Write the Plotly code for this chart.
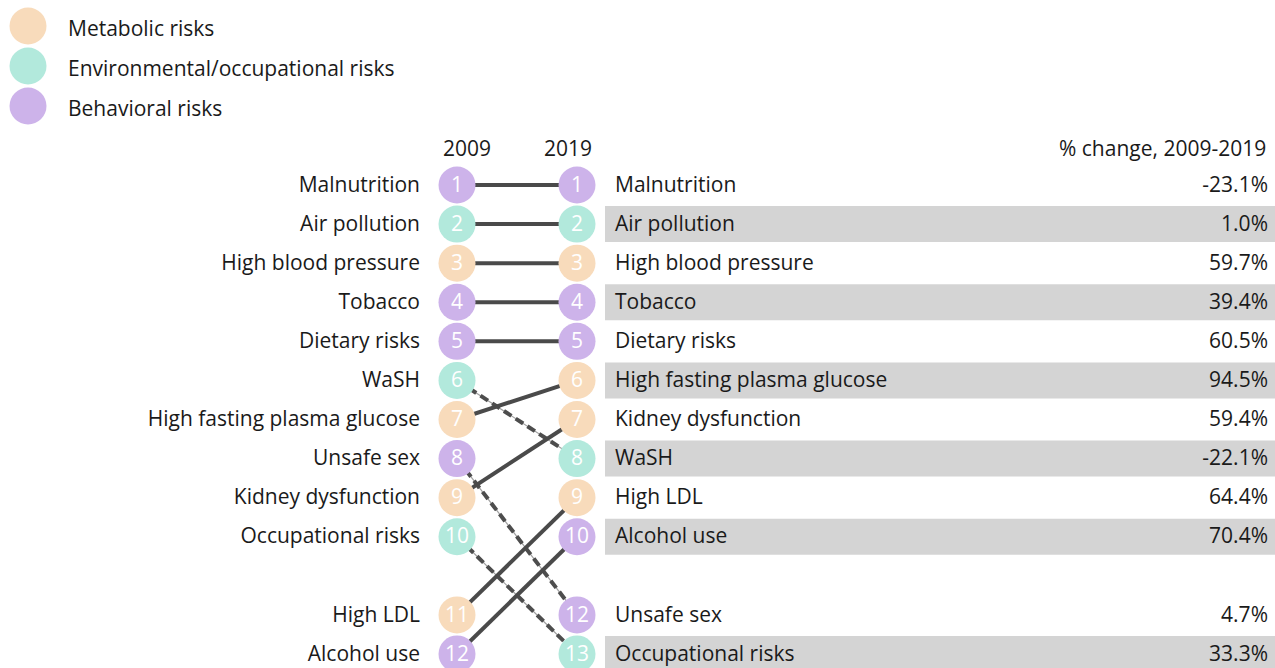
import plotly.graph_objects as go

# ---- data ----
risks = ["Malnutrition", "Air pollution", "High blood pressure", "Tobacco", "Dietary risks",
         "WaSH", "High fasting plasma glucose", "Unsafe sex", "Kidney dysfunction",
         "Occupational risks", "High LDL", "Alcohol use"]
category = ["Behavioral", "Environmental", "Metabolic", "Behavioral", "Behavioral",
            "Environmental", "Metabolic", "Behavioral", "Metabolic",
            "Environmental", "Metabolic", "Behavioral"]
rank_2009 = [1, 2, 3, 4, 5, 6, 7, 8, 9, 10, 11, 12]
rank_2019 = [1, 2, 3, 4, 5, 8, 6, 12, 7, 13, 9, 10]
pct_change = [-23.1, 1.0, 59.7, 39.4, 60.5, -22.1, 94.5, 4.7, 59.4, 33.3, 64.4, 70.4]
# display slot of each list (row 11 is left empty in both columns)
slot_2009 = [1, 2, 3, 4, 5, 6, 7, 8, 9, 10, 12, 13]
slot_2019 = [1, 2, 3, 4, 5, 8, 6, 12, 7, 13, 9, 10]

legend_names = ["Metabolic risks", "Environmental/occupational risks", "Behavioral risks"]
legend_keys = ["Metabolic", "Environmental", "Behavioral"]
colors = {"Metabolic": "#F8DBBB", "Environmental": "#B2E9DC", "Behavioral": "#CDB3EA"}

FONT = "Open Sans"
TXT = "#1a1a1a"
FS = 21
Y0, STEP = 185, 39.08
X09, X19 = 457, 577
TY = 1.5  # small downward nudge of text baseline


def ypos(slot):
    return Y0 + (slot - 1) * STEP


fig = go.Figure()

# grey bands behind the 2019 table (alternating rows in 2019 order)
order19 = sorted(range(len(risks)), key=lambda i: rank_2019[i])
for k, i in enumerate(order19):
    if k % 2 == 1:
        y = ypos(slot_2019[i])
        fig.add_shape(type="rect", x0=605, x1=1275, y0=y - 18, y1=y + 18,
                      fillcolor="#D4D4D4", line_width=0, layer="below")

# connecting lines
for i in range(len(risks)):
    ya, yb = ypos(slot_2009[i]), ypos(slot_2019[i])
    if rank_2019[i] > rank_2009[i]:
        fig.add_trace(go.Scatter(x=[X09, X19], y=[ya, yb], mode="lines",
                                 line=dict(color="#a0a0a0", width=1.2),
                                 hoverinfo="skip", showlegend=False))
        fig.add_trace(go.Scatter(x=[X09, X19], y=[ya, yb], mode="lines",
                                 line=dict(color="#4d4d4d", width=4, dash="9px,5px"),
                                 hoverinfo="skip", showlegend=False))
    else:
        fig.add_trace(go.Scatter(x=[X09, X19], y=[ya, yb], mode="lines",
                                 line=dict(color="#4a4a4a", width=4),
                                 hoverinfo="skip", showlegend=False))

# circles with rank numbers
for xs, ranks, slots in [(X09, rank_2009, slot_2009), (X19, rank_2019, slot_2019)]:
    fig.add_trace(go.Scatter(
        x=[xs] * len(risks), y=[ypos(s) for s in slots], mode="markers",
        marker=dict(size=37, color=[colors[c] for c in category], line_width=0),
        hoverinfo="skip", showlegend=False))
    fig.add_trace(go.Scatter(
        x=[xs] * len(risks), y=[ypos(s) + TY for s in slots], mode="text",
        text=[str(r) for r in ranks], textposition="middle center",
        textfont=dict(color="white", size=21, family=FONT),
        hoverinfo="skip", showlegend=False))

# left labels (2009 order)
fig.add_trace(go.Scatter(
    x=[420] * len(risks), y=[ypos(s) + TY for s in slot_2009], mode="text",
    text=risks, textposition="middle left",
    textfont=dict(color=TXT, size=FS, family=FONT), hoverinfo="skip", showlegend=False))

# right table labels
fig.add_trace(go.Scatter(
    x=[615] * len(risks), y=[ypos(s) + TY for s in slot_2019], mode="text",
    text=risks, textposition="middle right",
    textfont=dict(color=TXT, size=FS, family=FONT), hoverinfo="skip", showlegend=False))
fig.add_trace(go.Scatter(
    x=[1268] * len(risks), y=[ypos(s) + TY for s in slot_2019], mode="text",
    text=[f"{v:.1f}%" for v in pct_change], textposition="middle left",
    textfont=dict(color=TXT, size=FS, family=FONT), hoverinfo="skip", showlegend=False))

# headers
for x, t, anchor in [(467, "2009", "center"), (568, "2019", "center"),
                     (1268, "% change, 2009-2019", "right")]:
    fig.add_annotation(x=x, y=146 + TY, text=t, showarrow=False, xanchor=anchor,
                       yanchor="middle", font=dict(color=TXT, size=FS, family=FONT))

# legend
for k, (name, key) in enumerate(zip(legend_names, legend_keys)):
    y = 26 + 40 * k
    fig.add_trace(go.Scatter(x=[28], y=[y], mode="markers",
                             marker=dict(size=37, color=colors[key], line_width=0),
                             hoverinfo="skip", showlegend=False))
    fig.add_annotation(x=66, y=y + TY, text=name, showarrow=False, xanchor="left",
                       yanchor="middle", font=dict(color=TXT, size=FS, family=FONT))

fig.update_layout(
    width=1275, height=668, margin=dict(l=0, r=0, t=0, b=0),
    paper_bgcolor="white", plot_bgcolor="white",
    xaxis=dict(range=[0, 1275], visible=False, fixedrange=True),
    yaxis=dict(range=[668, 0], visible=False, fixedrange=True),
)
fig.write_html("out.html", config={"displayModeBar": False},
               post_script="document.body.style.margin='0';document.body.style.overflow='hidden';")
